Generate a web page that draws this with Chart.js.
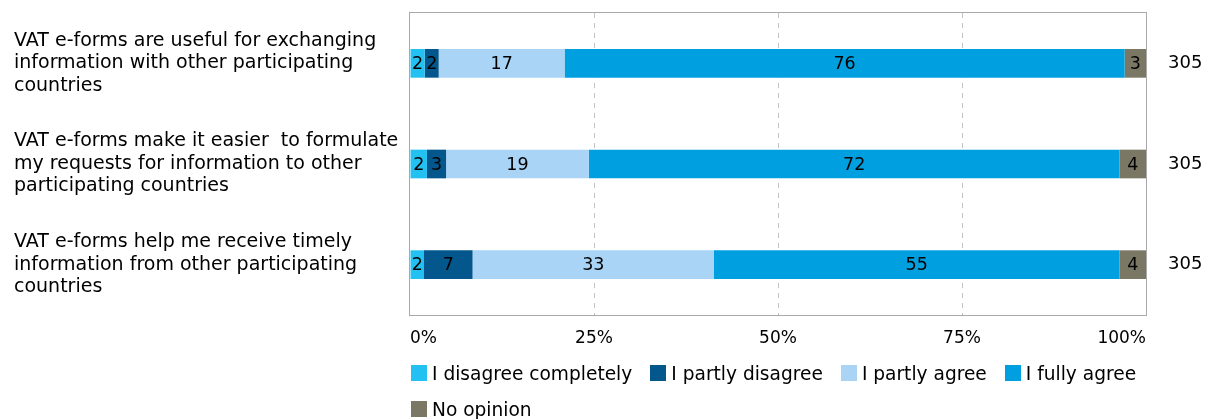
<!DOCTYPE html>
<html>
<head>
<meta charset="utf-8">
<script src="https://cdn.jsdelivr.net/npm/chart.js@4/dist/chart.umd.min.js"></script>
<style>
html,body{margin:0;padding:0;background:#fff;}
#wrap{position:relative;width:1213px;height:419px;overflow:hidden;}
#c{position:absolute;left:0;top:0;}
#legend{position:absolute;left:411px;top:361px;width:740px;display:flex;flex-wrap:wrap;column-gap:18px;row-gap:12px;font-family:"DejaVu Sans",Verdana,sans-serif;font-size:18.6px;color:#000;}
.item{display:flex;align-items:center;height:24px;white-space:nowrap;}
.box{width:16px;height:16px;margin-right:5px;flex:none;}
</style>
</head>
<body>
<div id="wrap">
<canvas id="c" width="1213" height="419"></canvas>
<div id="legend"></div>
</div>
<script>
// ---- data ----
const categories = [
  ["VAT e-forms are useful for exchanging", "information with other participating", "countries"],
  ["VAT e-forms make it easier  to formulate", "my requests for information to other", "participating countries"],
  ["VAT e-forms help me receive timely", "information from other participating", "countries"]
];
const seriesNames = ["I disagree completely", "I partly disagree", "I partly agree", "I fully agree", "No opinion"];
const disagreeCompletely = [2.0, 2.3, 1.9];
const partlyDisagree     = [1.9, 2.6, 6.6];
const partlyAgree        = [17.1, 19.4, 32.8];
const fullyAgree         = [76.1, 72.1, 55.1];
const noOpinion          = [2.9, 3.6, 3.6];
const totals = ["305", "305", "305"];
const xTickValues = [0, 25, 50, 75, 100];
const seriesColors = ["#22c1f1", "#03578c", "#a9d4f5", "#009fdf", "#7a7765"];

// ---- chart ----
const FONT = "'DejaVu Sans', Verdana, sans-serif";
Chart.defaults.font.family = FONT;
Chart.defaults.color = "#000";

const seriesData = [disagreeCompletely, partlyDisagree, partlyAgree, fullyAgree, noOpinion];
const datasets = seriesNames.map((name, i) => ({
  label: name,
  data: seriesData[i],
  backgroundColor: seriesColors[i],
  borderWidth: 0,
  categoryPercentage: 1,
  barPercentage: 0.285
}));

const framePlugin = {
  id: "frame",
  beforeDatasetsDraw(chart) {
    const { ctx, chartArea: a } = chart;
    ctx.save();
    ctx.strokeStyle = "#a9a9a9";
    ctx.lineWidth = 1;
    ctx.strokeRect(Math.round(a.left) - 0.5, Math.round(a.top) - 0.5,
                   Math.round(a.right - a.left) + 1, Math.round(a.bottom - a.top) + 1);
    ctx.restore();
  }
};

const valueLabels = {
  id: "valueLabels",
  afterDatasetsDraw(chart) {
    const ctx = chart.ctx;
    ctx.save();
    ctx.font = "17.5px " + FONT;
    ctx.fillStyle = "#000";
    ctx.textAlign = "center";
    ctx.textBaseline = "middle";
    chart.data.datasets.forEach((ds, i) => {
      const meta = chart.getDatasetMeta(i);
      meta.data.forEach((bar, j) => {
        const v = ds.data[j];
        ctx.fillText(String(Math.round(v)), (bar.x + bar.base) / 2, bar.y + 1);
      });
    });
    ctx.restore();
  }
};

function noPadY(scale, w) {
  scale.width = w;
  scale.paddingTop = 0;
  scale.paddingBottom = 0;
}

const chart = new Chart(document.getElementById("c"), {
  type: "bar",
  data: { labels: categories, datasets },
  options: {
    indexAxis: "y",
    responsive: false,
    animation: false,
    devicePixelRatio: 1,
    layout: { padding: { left: 14, top: 13, right: 0, bottom: 64 } },
    plugins: { legend: { display: false }, tooltip: { enabled: false } },
    scales: {
      x: {
        stacked: true,
        min: 0, max: 100,
        afterBuildTicks(scale) { scale.ticks = xTickValues.map(v => ({ value: v })); },
        afterFit(scale) { scale.height = 40; scale.paddingLeft = 0; scale.paddingRight = 0; },
        ticks: {
          align: "inner",
          padding: 13,
          color: "#000",
          font: { size: 17 },
          callback: v => v + "%"
        },
        grid: {
          drawTicks: false,
          color: c => (c.tick && (c.tick.value === 0 || c.tick.value === 100)) ? "rgba(0,0,0,0)" : "#c4c4c4",
          lineWidth: 1
        },
        border: { display: false, dash: [5, 5] }
      },
      y: {
        stacked: true,
        afterFit(scale) { noPadY(scale, 396); },
        ticks: {
          crossAlign: "far",
          autoSkip: false,
          color: "#000",
          font: { size: 19, lineHeight: 1.184 }
        },
        grid: { display: false, drawTicks: false },
        border: { display: false }
      },
      y2: {
        type: "category",
        position: "right",
        labels: totals,
        offset: true,
        afterFit(scale) { noPadY(scale, 67); },
        ticks: { padding: 22, color: "#000", font: { size: 18 }, autoSkip: false },
        grid: { display: false, drawTicks: false },
        border: { display: false }
      }
    }
  },
  plugins: [framePlugin, valueLabels]
});

// ---- HTML legend built from the datasets ----
const legend = document.getElementById("legend");
chart.data.datasets.forEach(ds => {
  const item = document.createElement("div");
  item.className = "item";
  const box = document.createElement("span");
  box.className = "box";
  box.style.background = ds.backgroundColor;
  const txt = document.createElement("span");
  txt.textContent = ds.label;
  item.appendChild(box);
  item.appendChild(txt);
  legend.appendChild(item);
});
</script>
</body>
</html>
